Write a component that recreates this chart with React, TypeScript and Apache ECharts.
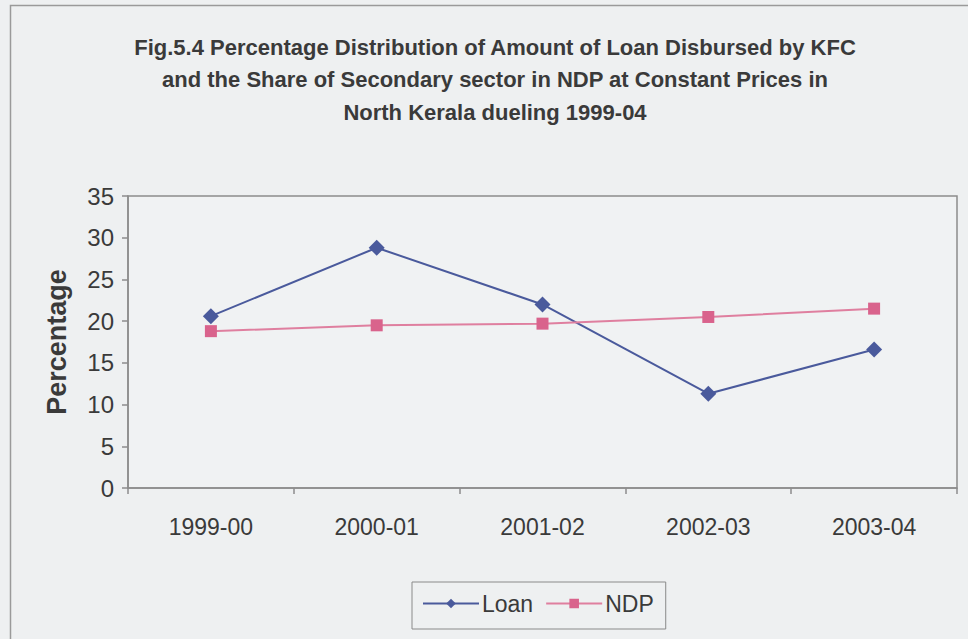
import React, { useEffect, useRef } from "react";
import * as echarts from "echarts";

// Financial years on the category axis
const years = ["1999-00", "2000-01", "2001-02", "2002-03", "2003-04"];
// Share of KFC loan amount disbursed in North Kerala (%)
const loanShare = [20.6, 28.8, 22.0, 11.3, 16.6];
// Share of secondary sector in NDP at constant prices (%)
const ndpShare = [18.8, 19.5, 19.7, 20.5, 21.5];

const titleLines = [
  "Fig.5.4 Percentage Distribution of Amount of Loan Disbursed by KFC",
  "and the Share of Secondary sector in NDP at Constant Prices in",
  "North Kerala dueling 1999-04",
];

const LOAN_COLOR = "#4a5a9c";
const NDP_COLOR = "#d9638c";
const TEXT_COLOR = "#3a3a3a";

export default function App() {
  const ref = useRef<HTMLDivElement>(null);

  useEffect(() => {
    if (!ref.current) return;
    const chart = echarts.init(ref.current, null, { renderer: "svg" });
    chart.setOption({
      animation: false,
      backgroundColor: "#eef0f1",
      title: {
        text: titleLines.join("\n"),
        left: 490,
        textAlign: "center",
        top: 26,
        textStyle: {
          fontFamily: "'Liberation Sans', Arial, sans-serif",
          fontWeight: "bold",
          fontSize: 22,
          lineHeight: 32.5,
          color: TEXT_COLOR,
        },
      },
      graphic: [
        {
          type: "rect",
          shape: { x: 10.5, y: 5.5, width: 1000, height: 700 },
          style: { fill: "none", stroke: "#9a9a9a", lineWidth: 1.5 },
          silent: true,
        },
      ],
      legend: {
        left: 412,
        top: 582,
        itemWidth: 56,
        itemHeight: 12,
        itemGap: 12,
        padding: [10, 12, 14, 10],
        borderColor: "#8a8a8a",
        borderWidth: 1,
        textStyle: {
          fontFamily: "'Liberation Sans', Arial, sans-serif",
          fontSize: 23,
          color: TEXT_COLOR,
          padding: [0, 0, 0, -2],
        },
        data: ["Loan", "NDP"],
      },
      grid: {
        left: 128,
        top: 196,
        right: 11,
        bottom: 151,
        show: true,
        borderColor: "#8c8c8c",
        borderWidth: 1.5,
        backgroundColor: "#f0f2f3",
      },
      xAxis: {
        type: "category",
        data: years,
        boundaryGap: true,
        axisLine: { lineStyle: { color: "#8c8c8c", width: 1.5 } },
        axisTick: { show: true, length: 6, inside: false, lineStyle: { color: "#8c8c8c", width: 1.5 } },
        axisLabel: {
          margin: 27,
          fontFamily: "'Liberation Sans', Arial, sans-serif",
          fontSize: 23,
          color: TEXT_COLOR,
        },
        splitLine: { show: false },
      },
      yAxis: {
        type: "value",
        min: 0,
        max: 35,
        interval: 5,
        name: "Percentage",
        nameLocation: "middle",
        nameGap: 58,
        nameRotate: 90,
        nameTextStyle: {
          fontFamily: "'Liberation Sans', Arial, sans-serif",
          fontWeight: "bold",
          fontSize: 27,
          color: TEXT_COLOR,
        },
        axisLine: { show: true, lineStyle: { color: "#8c8c8c", width: 1.5 } },
        axisTick: { show: true, length: 6, lineStyle: { color: "#8c8c8c", width: 1.5 } },
        axisLabel: {
          margin: 14,
          fontFamily: "'Liberation Sans', Arial, sans-serif",
          fontSize: 24,
          color: TEXT_COLOR,
        },
        splitLine: { show: false },
      },
      series: [
        {
          name: "Loan",
          type: "line",
          data: loanShare,
          symbol: "diamond",
          symbolSize: 16,
          itemStyle: { color: LOAN_COLOR },
          lineStyle: { color: LOAN_COLOR, width: 2 },
        },
        {
          name: "NDP",
          type: "line",
          data: ndpShare,
          symbol: "rect",
          symbolSize: 12,
          itemStyle: { color: NDP_COLOR },
          lineStyle: { color: "#df7f9f", width: 2 },
        },
      ],
    });
    return () => chart.dispose();
  }, []);

  return (
    <div
      ref={ref}
      style={{ position: "absolute", left: 0, top: 0, width: 968, height: 639 }}
    />
  );
}
